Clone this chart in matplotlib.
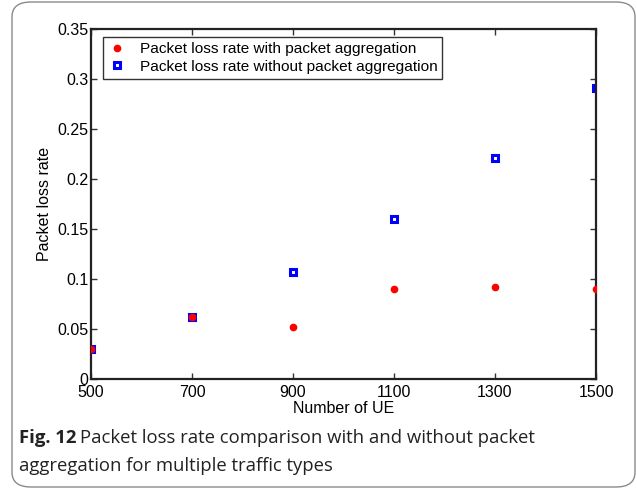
import matplotlib
matplotlib.use('Agg')
import matplotlib.pyplot as plt
from matplotlib.patches import FancyBboxPatch

# data
ue = [500, 700, 900, 1100, 1300, 1500]
loss_with = [0.030, 0.062, 0.052, 0.090, 0.092, 0.090]
loss_without = [0.030, 0.062, 0.107, 0.160, 0.221, 0.291]
xticks = [500, 700, 900, 1100, 1300, 1500]
yticks = [0, 0.05, 0.1, 0.15, 0.2, 0.25, 0.3, 0.35]
ytick_labels = ['0', '0.05', '0.1', '0.15', '0.2', '0.25', '0.3', '0.35']

plt.rcParams['font.family'] = ['Liberation Sans', 'DejaVu Sans']

fig = plt.figure(figsize=(6.37, 4.92), dpi=100)

# rounded frame round the whole figure
W, H = 637.0, 492.0
frame = FancyBboxPatch((12 / W, 5 / H), 623 / W, 485 / H,
                       boxstyle='round,pad=0,rounding_size=0.03',
                       transform=fig.transFigure, fill=False,
                       edgecolor='#8a8a8a', linewidth=1.0)
fig.patches.append(frame)

ax = fig.add_axes([91 / W, 1 - 379 / H, 505 / W, 350 / H])

ax.plot(ue, loss_with, linestyle='none', marker='o', markersize=4.5,
        color='red', label='Packet loss rate with packet aggregation', zorder=3)
ax.plot(ue, loss_without, linestyle='none', marker='s', markersize=5.0,
        markerfacecolor='none', markeredgecolor='blue', markeredgewidth=2.2,
        label='Packet loss rate without packet aggregation', zorder=2)

ax.set_xlim(500, 1500)
ax.set_ylim(0, 0.35)
ax.set_xticks(xticks)
ax.set_yticks(yticks)
ax.set_yticklabels(ytick_labels)
ax.tick_params(direction='in', top=True, right=True, labelsize=11.5,
               length=4, width=1, color='#333333', pad=2)
ax.tick_params(axis='x', pad=4)
for sp in ax.spines.values():
    sp.set_linewidth(1.6)
    sp.set_color('#222222')
    sp.set_clip_on(False)

ax.set_xlabel('Number of UE', fontsize=11.5, labelpad=1)
ax.set_ylabel('Packet loss rate', fontsize=11.5, labelpad=4)

leg = ax.legend(loc='upper left', bbox_to_anchor=(0.024, 0.976), fontsize=11.1,
                frameon=True, fancybox=False, borderpad=0.3, handletextpad=0.9,
                labelspacing=0.25, handlelength=1.2, borderaxespad=0)
leg.get_frame().set_edgecolor('black')
leg.get_frame().set_linewidth(1.0)

# caption
cap_font = ['Open Sans', 'DejaVu Sans']
fs = 13.3
t1 = fig.text(19 / W, 1 - 438 / H, 'Fig. 12', fontsize=fs, fontweight='bold',
              family=cap_font, va='center', color='#222222')
fig.canvas.draw()
bb = t1.get_window_extent()
fig.text(bb.x1 / W + 4 / W, 1 - 438 / H,
         'Packet loss rate comparison with and without packet',
         fontsize=fs, family=cap_font, va='center', color='#222222')
fig.text(19 / W, 1 - 466 / H, 'aggregation for multiple traffic types',
         fontsize=fs, family=cap_font, va='center', color='#222222')

fig.savefig('out.png', dpi=100)
